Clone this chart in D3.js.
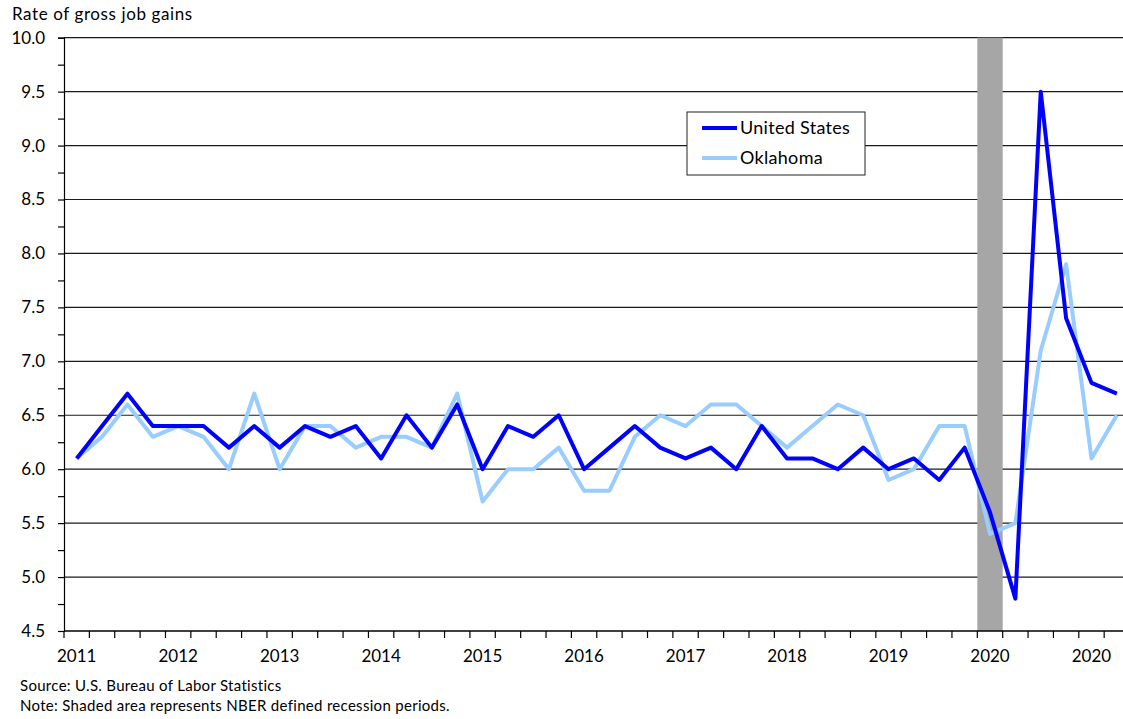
<!DOCTYPE html>
<html>
<head>
<meta charset="utf-8">
<script src="https://cdn.jsdelivr.net/npm/d3@7"></script>
<style>
  body { margin: 0; background: #fff; }
  svg { display: block; font-family: Lato, Calibri, sans-serif; }
</style>
</head>
<body>
<svg id="chart" width="1123" height="719"></svg>
<script>
// quarterly categories, 2011 Q1 .. 2021 Q2
const quarters = [];
for (let yr = 2011; yr <= 2021; yr++) {
    for (let q = 1; q <= 4; q++) {
        if (yr === 2021 && q > 2) break;
        quarters.push(yr + " Q" + q);
    }
}
// labels shown under every 4th quarter (as printed on the original)
const yearLabels = ["2011","2012","2013","2014","2015","2016","2017","2018","2019","2020","2020"];

const usRate = [6.1, 6.4, 6.7, 6.4, 6.4, 6.4, 6.2, 6.4, 6.2, 6.4, 6.3, 6.4,
                6.1, 6.5, 6.2, 6.6, 6.0, 6.4, 6.3, 6.5, 6.0, 6.2, 6.4, 6.2,
                6.1, 6.2, 6.0, 6.4, 6.1, 6.1, 6.0, 6.2, 6.0, 6.1, 5.9, 6.2,
                5.6, 4.8, 9.5, 7.4, 6.8, 6.7];
const okRate = [6.1, 6.3, 6.6, 6.3, 6.4, 6.3, 6.0, 6.7, 6.0, 6.4, 6.4, 6.2,
                6.3, 6.3, 6.2, 6.7, 5.7, 6.0, 6.0, 6.2, 5.8, 5.8, 6.3, 6.5,
                6.4, 6.6, 6.6, 6.4, 6.2, 6.4, 6.6, 6.5, 5.9, 6.0, 6.4, 6.4,
                5.4, 5.5, 7.1, 7.9, 6.1, 6.5];
const recessionQuarters = ["2020 Q1"];
const yMajorTicks = [4.5, 5.0, 5.5, 6.0, 6.5, 7.0, 7.5, 8.0, 8.5, 9.0, 9.5, 10.0];

const series = [
    {name: "United States", values: usRate, color: "#0000ff"},
    {name: "Oklahoma", values: okRate, color: "#99ccff"}
];

const svg = d3.select("#chart");
const plotLeft = 64, plotTop = 37.7, plotBottom = 631, step = 25.37;

const x = d3.scaleBand().domain(quarters).range([plotLeft, plotLeft + step * quarters.length]).padding(0);
const y = d3.scaleLinear().domain([4.5, 10]).range([plotBottom, plotTop]);

// gridlines
svg.append("g")
    .selectAll("line")
    .data(yMajorTicks.slice(1))
    .join("line")
    .attr("x1", plotLeft).attr("x2", x.range()[1])
    .attr("y1", d => y(d)).attr("y2", d => y(d))
    .attr("stroke", "#1a1a1a").attr("stroke-width", 1.2);

// recession shading
svg.append("g")
    .selectAll("rect")
    .data(recessionQuarters)
    .join("rect")
    .attr("x", d => x(d)).attr("width", x.bandwidth())
    .attr("y", plotTop).attr("height", plotBottom - plotTop)
    .attr("fill", "#a6a6a6");

// y axis
const yAxis = d3.axisLeft(y)
    .tickValues(d3.range(4.5, 10.001, 0.25))
    .tickSize(6)
    .tickPadding(13)
    .tickFormat(d => (Math.abs(d * 2 - Math.round(d * 2)) < 1e-6) ? d3.format(".1f")(d) : "");
const gy = svg.append("g").attr("transform", "translate(" + plotLeft + ",0)").call(yAxis);
gy.select(".domain").attr("stroke", "#000").attr("stroke-width", 1.2);
gy.selectAll(".tick line").attr("stroke", "#000").attr("stroke-width", 1.2);
gy.selectAll(".tick text").style("font-size", "17px").style("font-family", "Lato, sans-serif").attr("fill", "#000");

// x axis
svg.append("line")
    .attr("x1", plotLeft).attr("x2", x.range()[1])
    .attr("y1", plotBottom).attr("y2", plotBottom)
    .attr("stroke", "#000").attr("stroke-width", 1.4);
svg.append("g")
    .selectAll("line")
    .data(quarters)
    .join("line")
    .attr("x1", d => x(d)).attr("x2", d => x(d))
    .attr("y1", plotBottom).attr("y2", plotBottom + 7)
    .attr("stroke", "#000").attr("stroke-width", 1.2);
svg.append("g")
    .selectAll("text")
    .data(quarters.filter((d, i) => i % 4 === 0))
    .join("text")
    .attr("x", d => x(d) + x.bandwidth() / 2)
    .attr("y", 662)
    .attr("text-anchor", "middle")
    .style("font-size", "17px")
    .text((d, i) => yearLabels[i]);

// lines
const line = d3.line()
    .x((d, i) => x(quarters[i]) + x.bandwidth() / 2)
    .y(d => y(d));
svg.append("g")
    .selectAll("path")
    .data(series.slice().reverse())
    .join("path")
    .attr("d", d => line(d.values))
    .attr("fill", "none")
    .attr("stroke", d => d.color)
    .attr("stroke-width", 4)
    .attr("stroke-linejoin", "round");

// title
svg.append("text")
    .attr("x", 12).attr("y", 20)
    .style("font-size", "17px")
    .style("letter-spacing", "0.6px")
    .text("Rate of gross job gains");

// legend
const lg = svg.append("g").attr("transform", "translate(687,112)");
lg.append("rect")
    .attr("width", 178).attr("height", 63)
    .attr("fill", "#fff").attr("stroke", "#222").attr("stroke-width", 1);
lg.selectAll("g.item")
    .data(series)
    .join("g")
    .attr("class", "item")
    .attr("transform", (d, i) => "translate(0," + (16 + i * 30) + ")")
    .each(function(d) {
        const g = d3.select(this);
        g.append("line").attr("x1", 15).attr("x2", 50).attr("y1", 0).attr("y2", 0)
            .attr("stroke", d.color).attr("stroke-width", 4);
        g.append("text").attr("x", 53).attr("y", 6)
            .style("font-size", "18px").style("letter-spacing", "0.3px").text(d.name);
    });

// notes
svg.append("text").attr("x", 20).attr("y", 691)
    .style("font-size", "15px").style("letter-spacing", "0.3px")
    .text("Source: U.S. Bureau of Labor Statistics");
svg.append("text").attr("x", 20).attr("y", 711)
    .style("font-size", "15px").style("letter-spacing", "0.3px")
    .text("Note: Shaded area represents NBER defined recession periods.");
</script>
</body>
</html>
